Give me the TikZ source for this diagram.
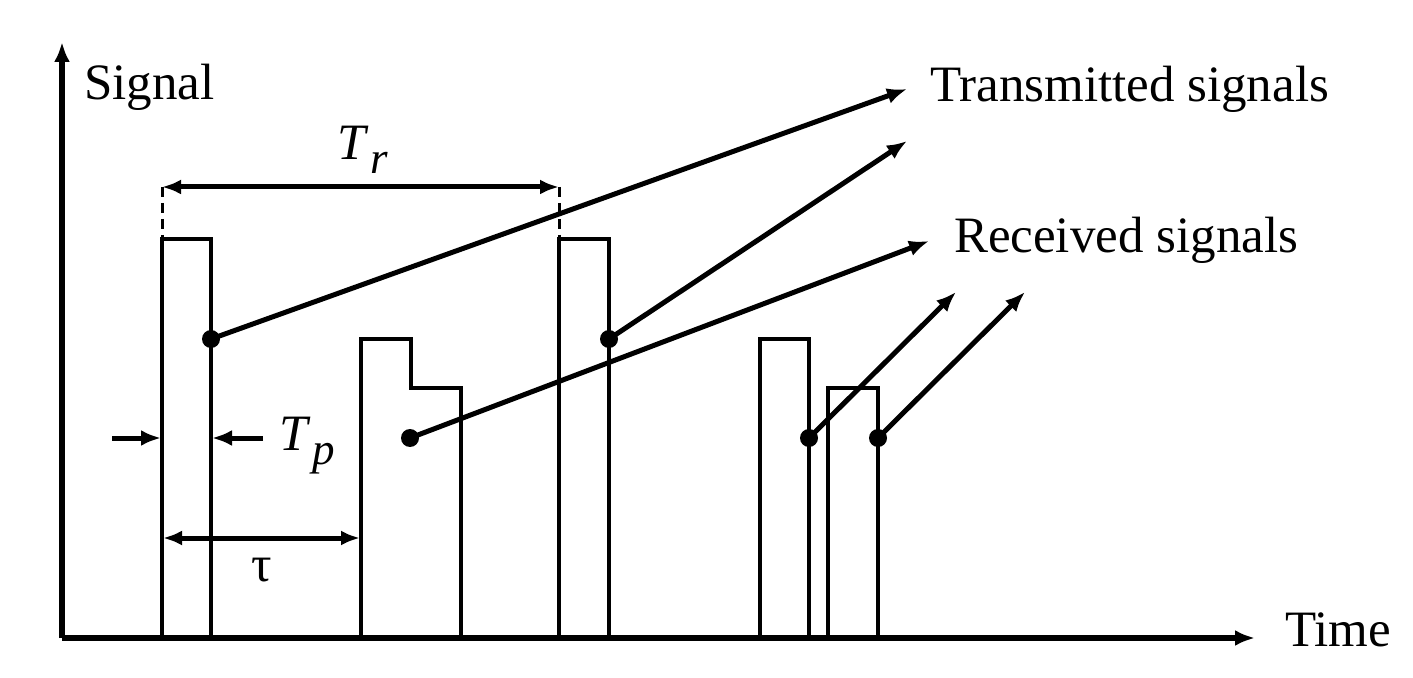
\documentclass[tikz,border=0pt]{standalone}
\usepackage{fontspec}
\setmainfont{Liberation Serif}
\usetikzlibrary{arrows.meta}

\newcommand{\subit}[2]{\textit{#1}\kern0.3pt\raisebox{-0.6ex}{\small\textit{#2}}}

\begin{document}
\begin{tikzpicture}[x=0.2pt,y=-0.2pt,
        font=\fontsize{10.2}{12}\selectfont,
        pulse/.style={line width=0.9pt},
        axis/.style={line width=1.1pt,-{Latex[length=4pt,width=3.2pt]}},
        ptr/.style={line width=1pt,-{Latex[length=4pt,width=3.2pt]}},
        dim/.style={line width=1pt,{Latex[length=3.8pt,width=3pt]}-{Latex[length=3.8pt,width=3pt]}},
        guide/.style={line width=0.6pt,dashed,dash pattern=on 2pt off 1.2pt},
        dot/.style={circle,fill,inner sep=0pt,minimum size=3.6pt},
        lbl/.style={inner sep=0pt,anchor=base west}]
    \useasboundingbox (0,0) rectangle (1413,678);

    % axes
    \coordinate (O) at (62,638);
    \coordinate (ytip) at (62,42);
    \coordinate (xtip) at (1255,638);
    \draw[axis] (O) -- (ytip);
    \draw[axis] (O) -- (xtip);
    \node[lbl] (ylab) at (83,100) {Signal};
    \node[lbl] (xlab) at (1284,646) {Time};

    % transmitted pulses
    \draw[pulse] (162,638) -- (162,239) -- (211,239) -- (211,638);
    \draw[pulse] (559,638) -- (559,239) -- (609,239) -- (609,638);
    % received pulses
    \draw[pulse] (361,638) -- (361,339) -- (411,339) -- (411,388) -- (461,388) -- (461,638);
    \draw[pulse] (760,638) -- (760,339) -- (809,339) -- (809,638);
    \draw[pulse] (828,638) -- (828,388) -- (878,388) -- (878,638);

    % T_r
    \coordinate (tra) at (162,187);
    \coordinate (trb) at (559,187);
    \draw[guide] (tra) -- (162,239);
    \draw[guide] (trb) -- (559,239);
    \draw[dim] (tra) -- (trb);
    \node (trlab) at (363,150) {\subit{T}{r}};

    % T_p
    \coordinate (tpl) at (112,438);
    \coordinate (tpla) at (161,438);
    \coordinate (tpr) at (263,438);
    \coordinate (tpra) at (212,438);
    \draw[ptr] (tpl) -- (tpla);
    \draw[ptr] (tpr) -- (tpra);
    \node (tplab) at (307,446) {\subit{T}{p}};

    % tau
    \coordinate (taua) at (163,538);
    \coordinate (taub) at (360,538);
    \draw[dim] (taua) -- (taub);
    \node (taulab) at (262,570) {τ};

    % dots and pointers
    \node[dot] (t1) at (211,339) {};
    \node[dot] (t2) at (609,339) {};
    \node[dot] (r1) at (410,438) {};
    \node[dot] (r2) at (809,438) {};
    \node[dot] (r3) at (878,438) {};
    \coordinate (t1end) at (907,89);
    \coordinate (t2end) at (907,141);
    \coordinate (r1end) at (929,241);
    \coordinate (r2end) at (956,292);
    \coordinate (r3end) at (1025,292);
    \draw[ptr] (t1.center) -- (t1end);
    \draw[ptr] (t2.center) -- (t2end);
    \draw[ptr] (r1.center) -- (r1end);
    \draw[ptr] (r2.center) -- (r2end);
    \draw[ptr] (r3.center) -- (r3end);
    \node[lbl] (txlab) at (929,102) {Transmitted signals};
    \node[lbl] (rxlab) at (953,253) {Received signals};
\end{tikzpicture}
\end{document}
